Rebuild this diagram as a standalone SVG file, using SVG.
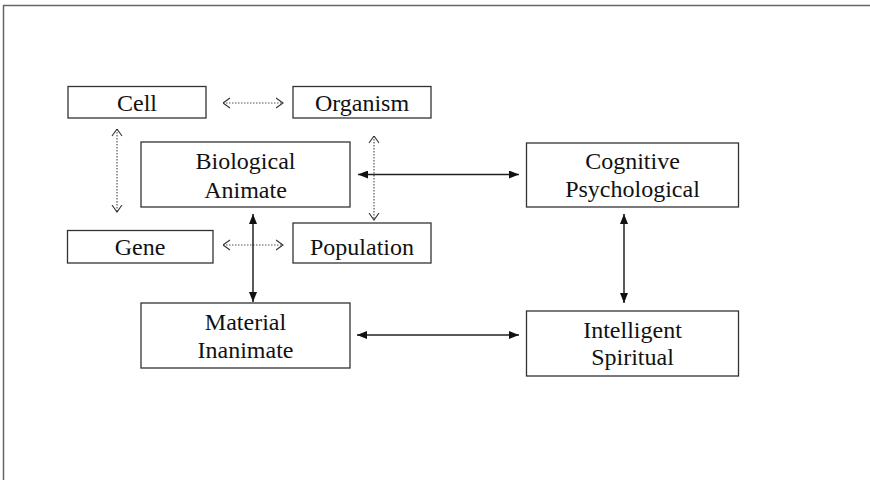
<svg xmlns="http://www.w3.org/2000/svg" width="870" height="480" viewBox="0 0 870 480">
  <style>
    .box { fill: #fff; stroke: #333; stroke-width: 1.3; }
    .lbl { font-family: "Liberation Serif", "Times New Roman", serif; font-size: 24px; fill: #111; text-anchor: middle; }
    .solid { stroke: #222; stroke-width: 1.5; fill: none; marker-start: url(#headS); marker-end: url(#headE); }
    .dot { stroke: #555; stroke-width: 1.2; stroke-dasharray: 1.5 1.5; fill: none; marker-start: url(#openS); marker-end: url(#openE); }
  </style>
  <defs>
    <marker id="headE" viewBox="0 0 10 8" refX="10" refY="4" markerWidth="10" markerHeight="8" markerUnits="userSpaceOnUse" orient="auto">
      <path d="M0,0 L10,4 L0,8 Z" fill="#111"/>
    </marker>
    <marker id="headS" viewBox="0 0 10 8" refX="0" refY="4" markerWidth="10" markerHeight="8" markerUnits="userSpaceOnUse" orient="auto">
      <path d="M10,0 L0,4 L10,8 Z" fill="#111"/>
    </marker>
    <marker id="openE" viewBox="0 0 8 12" refX="7.5" refY="6" markerWidth="8" markerHeight="12" markerUnits="userSpaceOnUse" orient="auto">
      <path d="M0.5,1 L7.5,6 L0.5,11" fill="none" stroke="#333" stroke-width="1.1"/>
    </marker>
    <marker id="openS" viewBox="0 0 8 12" refX="0.5" refY="6" markerWidth="8" markerHeight="12" markerUnits="userSpaceOnUse" orient="auto">
      <path d="M7.5,1 L0.5,6 L7.5,11" fill="none" stroke="#333" stroke-width="1.1"/>
    </marker>
  </defs>

  <rect width="870" height="480" fill="#fff"/>
  <!-- outer frame (top and left edges) -->
  <path d="M3.5,480 L3.5,5.5 L870,5.5" fill="none" stroke="#666" stroke-width="1.5"/>

  <g id="connectors">
    <line class="dot" x1="223" y1="103" x2="283" y2="103"/>
    <line class="dot" x1="223" y1="245" x2="283" y2="245"/>
    <line class="dot" x1="117" y1="129" x2="117" y2="212"/>
    <line class="dot" x1="374" y1="136" x2="374" y2="220"/>
    <line class="solid" x1="358" y1="174.5" x2="519" y2="174.5"/>
    <line class="solid" x1="357" y1="335" x2="519" y2="335"/>
    <line class="solid" x1="253" y1="214" x2="253" y2="302"/>
    <line class="solid" x1="624" y1="214" x2="624" y2="303"/>
  </g>

  <g id="cell">
    <rect class="box" x="68" y="86.5" width="138" height="31.5"/>
    <text class="lbl" x="137" y="111">Cell</text>
  </g>
  <g id="organism">
    <rect class="box" x="293" y="86.5" width="138" height="31.5"/>
    <text class="lbl" x="362" y="111">Organism</text>
  </g>
  <g id="biological">
    <rect class="box" x="141" y="142" width="209" height="65"/>
    <text class="lbl" x="245.5" y="169">Biological</text>
    <text class="lbl" x="245.5" y="198">Animate</text>
  </g>
  <g id="cognitive">
    <rect class="box" x="526.5" y="143" width="212" height="64"/>
    <text class="lbl" x="632.5" y="169">Cognitive</text>
    <text class="lbl" x="632.5" y="197">Psychological</text>
  </g>
  <g id="gene">
    <rect class="box" x="67.5" y="230.5" width="145.5" height="32.5"/>
    <text class="lbl" x="140" y="255">Gene</text>
  </g>
  <g id="population">
    <rect class="box" x="293" y="223" width="138" height="40"/>
    <text class="lbl" x="362" y="255">Population</text>
  </g>
  <g id="material">
    <rect class="box" x="141" y="303" width="209" height="65"/>
    <text class="lbl" x="245.5" y="330">Material</text>
    <text class="lbl" x="245.5" y="358">Inanimate</text>
  </g>
  <g id="intelligent">
    <rect class="box" x="526.5" y="311" width="212" height="65"/>
    <text class="lbl" x="632.5" y="338">Intelligent</text>
    <text class="lbl" x="632.5" y="365">Spiritual</text>
  </g>
</svg>
